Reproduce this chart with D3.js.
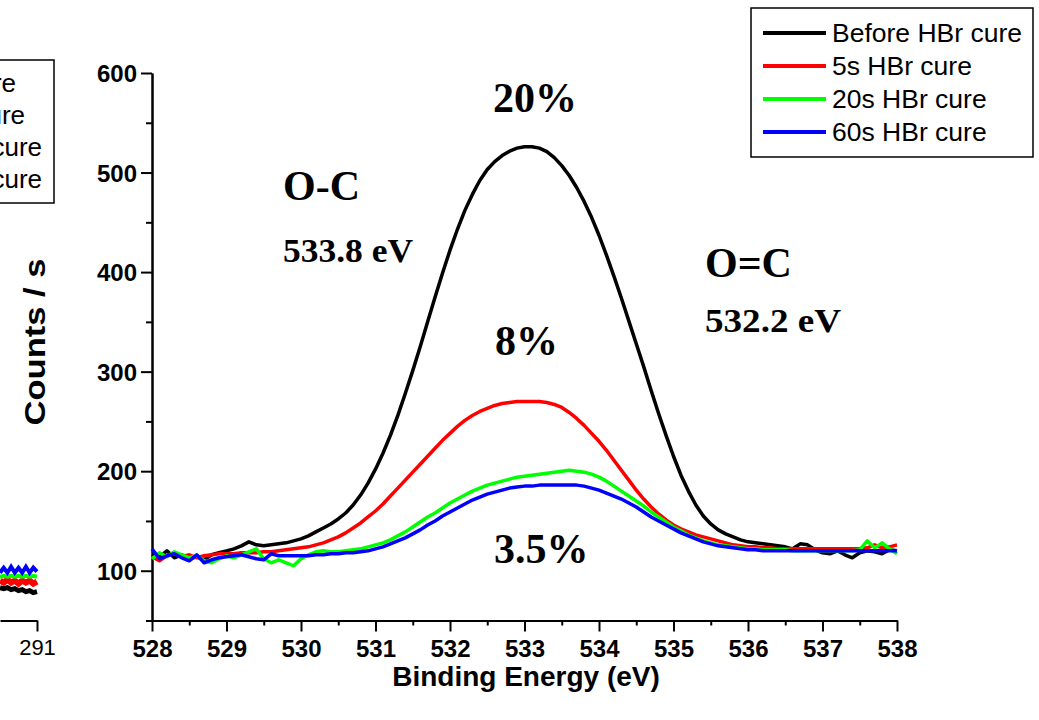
<!DOCTYPE html>
<html><head><meta charset="utf-8">
<script src="https://cdn.jsdelivr.net/npm/d3@7"></script>
<style>html,body{margin:0;padding:0;background:#fff;overflow:hidden}</style>
</head><body>
<svg id="chart" width="1039" height="720"></svg>
<script>
// ---------------- data ----------------
const energy = [
528.0,528.1,528.2,528.3,528.4,528.5,528.6,528.7,528.8,528.9,
529.0,529.1,529.2,529.3,529.4,529.5,529.6,529.7,529.8,529.9,
530.0,530.1,530.2,530.3,530.4,530.5,530.6,530.7,530.8,530.9,
531.0,531.1,531.2,531.3,531.4,531.5,531.6,531.7,531.8,531.9,
532.0,532.1,532.2,532.3,532.4,532.5,532.6,532.7,532.8,532.9,
533.0,533.1,533.2,533.3,533.4,533.5,533.6,533.7,533.8,533.9,
534.0,534.1,534.2,534.3,534.4,534.5,534.6,534.7,534.8,534.9,
535.0,535.1,535.2,535.3,535.4,535.5,535.6,535.7,535.8,535.9,
536.0,536.1,536.2,536.3,536.4,536.5,536.6,536.7,536.8,536.9,
537.0,537.1,537.2,537.3,537.4,537.5,537.6,537.7,537.8,537.9,
538.0];
const beforeCure = [
116,114,120,113,116,112,114,111,116,118,
120,122,125,129,126,125,126,127,128,130,
132,135,139,143,147,152,158,166,176,188,
202,218,236,256,278,301,325,350,375,399,
422,443,462,478,492,503,511,517,521.5,524.5,
526,526,524.5,521,515,507,497,485,471,455,
437,417,396,374,351,328,305,281,258,236,
215,196,180,166,155,147,141,137,134,131,
129,128,127,126,125,124,122,127,126,121,
118,117,120,116,113,118,120,119,117,121,
120];
const cure5s = [
114,110,115,117,114,116,113,115,116,117,
117,117,118,118,118,119,119,120,121,122,
123,124,126,128,131,134,138,143,148,154,
160,167,175,183,191,199,207,215,223,231,
238,245,251,256,260,263,266,268,269,270,
270,270,270,269,267,264,259,253,246,238,
230,221,211,201,191,181,172,164,157,151,
146,142,139,136,134,132,130,128,126,125,
124,124,123,123,122,122,122,122,122,122,
122,122,122,122,122,122,123,126,123,124,
126];
const cure20s = [
112,118,114,119,116,113,115,110,108,112,
115,113,116,119,122,112,108,111,108,105,
112,116,119,120,119,119,120,121,122,124,
126,128,131,135,139,144,149,154,158,163,
168,172,176,180,183,186,188,190,192,194,
195,196,197,198,199,200,201,200,199,197,
194,190,185,180,175,170,165,159,154,149,
144,140,136,133,130,128,126,125,124,123,
122,122,121,121,121,121,120,120,120,120,
120,120,120,120,120,121,130,123,128,122,
117];
const cure60s = [
122,112,115,117,113,110,116,108,111,113,
114,115,116,114,112,111,117,115,115,115,
115,115,116,116,117,117,118,118,119,120,
122,124,127,130,133,137,141,146,150,155,
159,163,167,171,174,177,179,181,183,184,
185,185,186,186,186,186,186,186,185,183,
181,178,175,172,168,164,159,154,150,146,
142,138,135,132,129,127,125,124,123,122,
121,121,120,120,120,120,120,120,120,120,
120,120,120,120,120,120,120,120,120,120,
120];
const seriesNames = ["Before HBr cure","5s HBr cure","20s HBr cure","60s HBr cure"];
const seriesColors = ["#000000","#ff0000","#00ff00","#0000ff"];
const xTicks = [528,529,530,531,532,533,534,535,536,537,538];
const xMinorTicks = [528.5,529.5,530.5,531.5,532.5,533.5,534.5,535.5,536.5,537.5];
const yTicks = [100,200,300,400,500,600];
const yMinorTicks = [50,150,250,350,450,550];

// partial neighbouring panel (cut off at the left edge)
const leftEnergy = [290.5,290.55,290.6,290.65,290.7,290.75,290.8,290.85,290.9,290.95,291.0];
const leftBlack = [83,82,83,81,82,80,81,79,80,78,79];
const leftRed   = [90,88,91,88,90,87,90,88,90,87,89];
const leftGreen = [94,95,94,95,94,95,94,95,94,95,94];
const leftBlue  = [98,103,98,104,98,103,98,104,98,103,99];
const leftTicks = [291];
const leftLegendTail = ["re","ure","cure","cure"];

const annotations = [
  {t:"20%", x:493, y:112, size:42},
  {t:"O-C", x:283, y:200, size:42},
  {t:"533.8 eV", x:283, y:262, size:33, len:130},
  {t:"O=C", x:705, y:277, size:42},
  {t:"532.2 eV", x:705, y:332, size:33, len:136},
  {t:"8%", x:495, y:355, size:42},
  {t:"3.5%", x:494, y:563, size:42}
];

// ---------------- drawing ----------------
const svg = d3.select("#chart");
const sans = "'Liberation Sans', Arial, sans-serif";
const serif = "'Liberation Serif', 'Times New Roman', serif";

const x = d3.scaleLinear().domain([528,538]).range([152,897]);
const y = d3.scaleLinear().domain([50,600]).range([620.5,73]);

// axes
const gx = svg.append("g").attr("transform","translate(0,620.5)");
gx.call(d3.axisBottom(x).tickValues(xTicks).tickSize(11).tickSizeOuter(0).tickPadding(8).tickFormat(d3.format("d")));
const gxm = svg.append("g").attr("transform","translate(0,620.5)");
gxm.call(d3.axisBottom(x).tickValues(xMinorTicks).tickSize(5).tickSizeOuter(0).tickFormat(""));
const gy = svg.append("g").attr("transform","translate(152,0)");
gy.call(d3.axisLeft(y).tickValues(yTicks).tickSize(11).tickSizeOuter(0).tickPadding(4).tickFormat(d3.format("d")));
const gym = svg.append("g").attr("transform","translate(152,0)");
gym.call(d3.axisLeft(y).tickValues(yMinorTicks).tickSize(6).tickSizeOuter(0).tickFormat(""));
[gx,gxm,gy,gym].forEach(g=>{
  g.selectAll("path,line").attr("stroke","#000").attr("stroke-width",2);
  g.selectAll("text").attr("fill","#000").style("font-family",sans).style("font-weight","bold").style("font-size","24px");
});
gx.selectAll("text").attr("dy","0.71em");
gy.selectAll("text").attr("dy","0.36em");

// series
const allSeries = [beforeCure,cure5s,cure20s,cure60s];
const line = d3.line().x((d,i)=>x(energy[i])).y(d=>y(d));
allSeries.forEach((s,k)=>{
  svg.append("path").datum(s).attr("d",line).attr("fill","none")
    .attr("stroke",seriesColors[k]).attr("stroke-width",3.5).attr("stroke-linejoin","round");
});

// partial left panel
const xl = d3.scaleLinear().domain([290.5,291]).range([0,37]);
const gl = svg.append("g").attr("transform","translate(0,620.5)");
gl.call(d3.axisBottom(xl).tickValues(leftTicks).tickSize(11).tickSizeOuter(0).tickPadding(8).tickFormat(d3.format("d")));
gl.selectAll("path,line").attr("stroke","#000").attr("stroke-width",2);
gl.selectAll("text").attr("dy","0.71em").attr("fill","#000").style("font-family",sans).style("font-size","22px");
const lineL = d3.line().x((d,i)=>xl(leftEnergy[i])).y(d=>y(d));
[[leftBlack,"#000",5],[leftRed,"#ff0000",6],[leftGreen,"#00ff00",4],[leftBlue,"#0000ff",4]].forEach(([s,c,w])=>{
  svg.append("path").datum(s).attr("d",lineL).attr("fill","none").attr("stroke",c).attr("stroke-width",w);
});
svg.append("rect").attr("x",-10).attr("y",60).attr("width",64).attr("height",143)
  .attr("fill","none").attr("stroke","#000").attr("stroke-width",1.5);
const leftEnds = [16,25,42,42];
leftLegendTail.forEach((t,i)=>{
  svg.append("text").attr("x",leftEnds[i]).attr("y",92+i*32).attr("text-anchor","end")
    .style("font-family",sans).style("font-size","26px").text(t);
});

// axis titles
svg.append("text").attr("x",526).attr("y",686).attr("text-anchor","middle")
  .style("font-family",sans).style("font-weight","bold").style("font-size","28px").text("Binding Energy (eV)");
svg.append("text").attr("transform","translate(45,342) rotate(-90)").attr("text-anchor","middle")
  .attr("textLength",167).attr("lengthAdjust","spacingAndGlyphs")
  .style("font-family",sans).style("font-weight","bold").style("font-size","29px").text("Counts / s");

// annotations
annotations.forEach(a=>{
  const t = svg.append("text").attr("x",a.x).attr("y",a.y)
    .style("font-family",serif).style("font-weight","bold").style("font-size",a.size+"px").text(a.t);
  if (a.len) t.attr("textLength",a.len).attr("lengthAdjust","spacingAndGlyphs");
});

// legend
const lg = svg.append("g");
lg.append("rect").attr("x",751).attr("y",8).attr("width",282).attr("height",149)
  .attr("fill","#fff").attr("stroke","#000").attr("stroke-width",1.5);
seriesNames.forEach((n,i)=>{
  const ly = 33 + i*33;
  lg.append("line").attr("x1",763).attr("x2",826).attr("y1",ly).attr("y2",ly)
    .attr("stroke",seriesColors[i]).attr("stroke-width",4);
  lg.append("text").attr("x",832).attr("y",ly+9).style("font-family",sans).style("font-size","26.5px").text(n);
});
</script>
</body></html>
